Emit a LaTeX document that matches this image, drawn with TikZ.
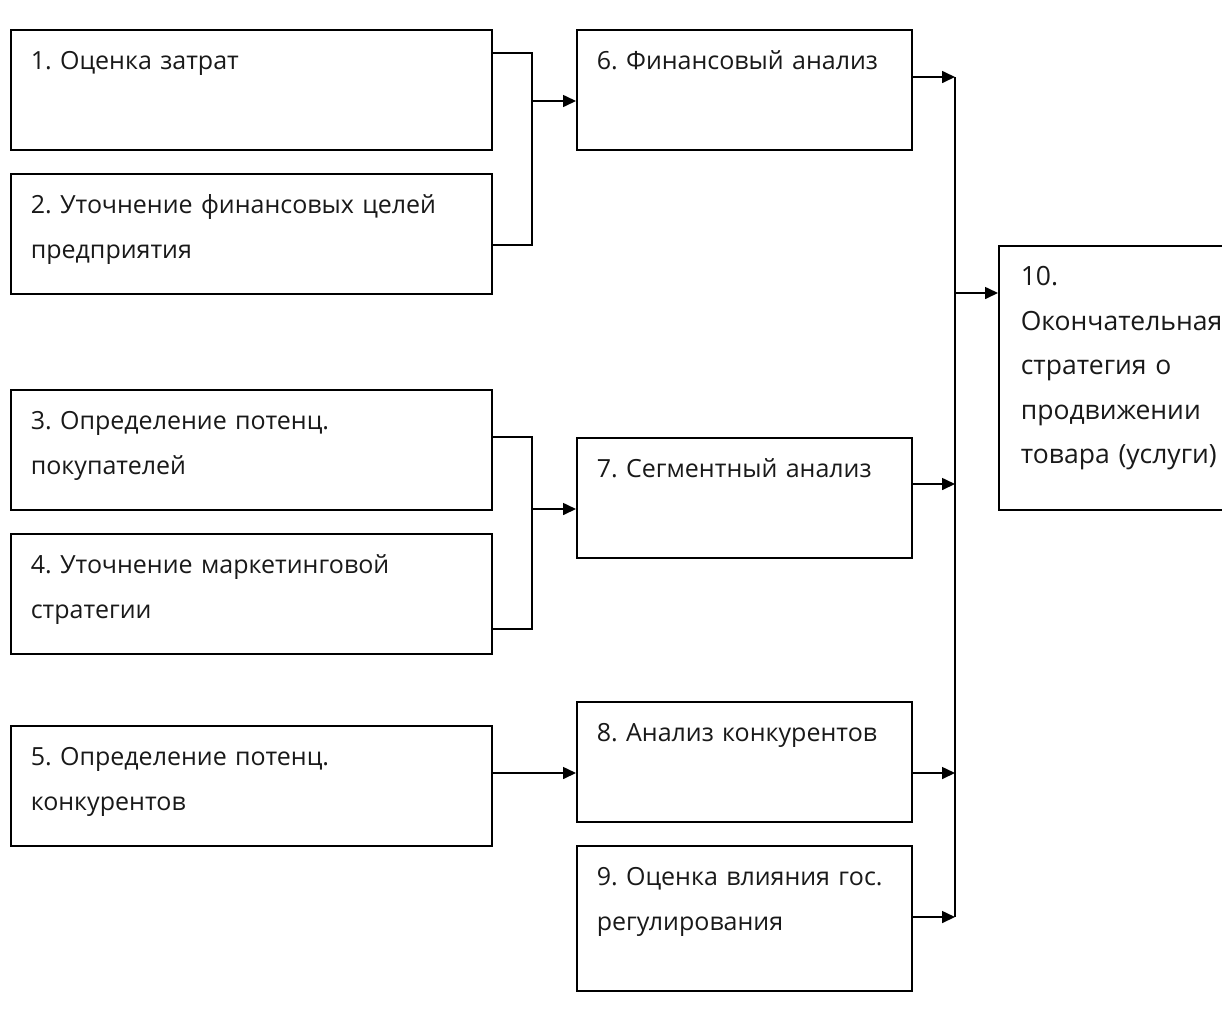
\documentclass[tikz,border=0pt]{standalone}
\usepackage{fontspec}
\setmainfont{Open Sans}
\frenchspacing
\usetikzlibrary{arrows.meta,calc}

\tikzset{
  blok/.style={draw, line width=1.6pt, rectangle, anchor=north west, align=left,
    inner xsep=20pt, inner ysep=0pt, text height=40pt, font=\fontsize{25}{44.5}\selectfont,
    text=black!90},
  wide/.style={blok, text width=441pt, minimum width=481pt, minimum height=120pt, text depth=80pt},
  mid/.style={blok, text width=295pt, minimum width=335pt, minimum height=120pt, text depth=80pt},
  link/.style={line width=1.6pt},
  strel/.style={link, -{Triangle[length=13pt,width=12pt]}}
}

\begin{document}
\begin{tikzpicture}[x=1pt, y=-1pt]
  \fill[white] (0,0) rectangle (1222,1010);
  \clip (0,0) rectangle (1222,1010);

  % left column
  \node[wide] (b1) at (10,29)  {1. Оценка затрат};
  \node[wide] (b2) at (10,173) {2. Уточнение финансовых целей\\предприятия};
  \node[wide] (b3) at (10,389) {3. Определение потенц.\\покупателей};
  \node[wide] (b4) at (10,533) {4. Уточнение маркетинговой\\стратегии};
  \node[wide] (b5) at (10,725) {5. Определение потенц.\\конкурентов};

  % middle column
  \node[mid] (b6) at (576,29)  {6. Финансовый анализ};
  \node[mid] (b7) at (576,437) {7. Сегментный анализ};
  \node[mid] (b8) at (576,701) {8. Анализ конкурентов};
  \node[mid, minimum height=145pt, text depth=105pt] (b9) at (576,845)
    {9. Оценка влияния гос.\\регулирования};

  % result
  \node[blok, text width=200pt, minimum width=240pt, minimum height=264pt, text depth=224pt,
    inner xsep=22pt, font=\fontsize{26.5}{44.5}\selectfont] (b10) at (998,245)
    {10.\\Окончательная\\стратегия о\\продвижении\\товара (услуги)};

  % junctions
  \coordinate (j12) at (532,101);
  \coordinate (j34) at (532,509);
  \coordinate (bt)  at (955,77);
  \coordinate (bb)  at (955,917);
  \coordinate (b10in) at (955,293);

  \draw[link] ([yshift=-24pt]b1.north east) -| (j12)
              |- ([yshift=-72pt]b2.north east);
  \draw[strel] (j12) -- (j12 -| b6.west);

  \draw[link] ([yshift=-48pt]b3.north east) -| (j34)
              |- ([yshift=-96pt]b4.north east);
  \draw[strel] (j34) -- (j34 -| b7.west);

  \draw[strel] ([yshift=-48pt]b5.north east) -- ([yshift=-48pt]b5.north east -| b8.west);

  % bus to the result
  \draw[link] (bt) -- (bb);
  \draw[strel] ([yshift=-48pt]b6.north east) -- ([yshift=-48pt]b6.north east -| bt);
  \draw[strel] ([yshift=-47pt]b7.north east) -- ([yshift=-47pt]b7.north east -| bt);
  \draw[strel] ([yshift=-72pt]b8.north east) -- ([yshift=-72pt]b8.north east -| bt);
  \draw[strel] ([yshift=-72pt]b9.north east) -- ([yshift=-72pt]b9.north east -| bt);
  \draw[strel] (b10in) -- (b10in -| b10.west);
\end{tikzpicture}
\end{document}
